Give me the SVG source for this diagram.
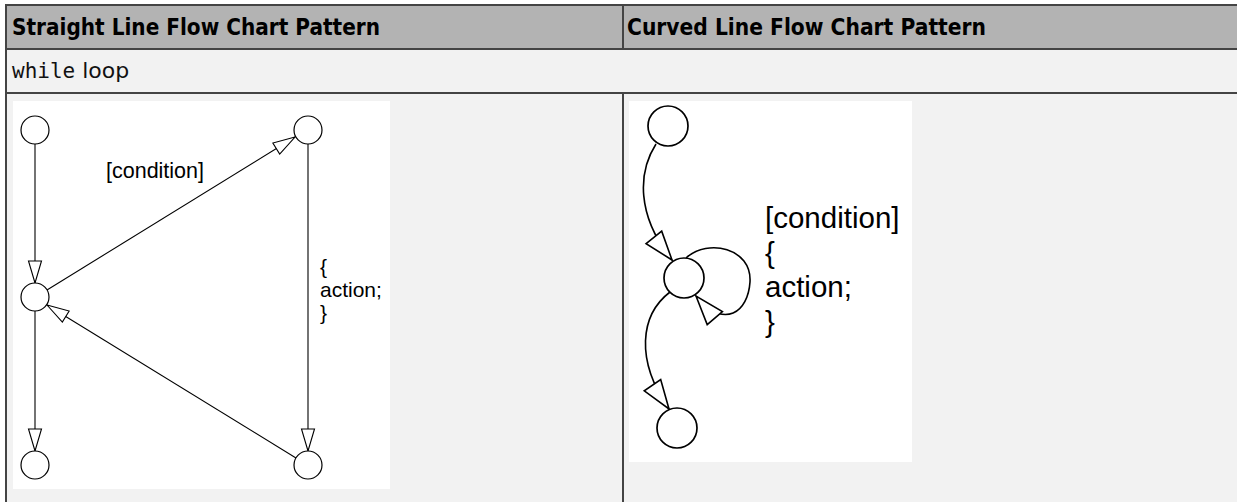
<svg xmlns="http://www.w3.org/2000/svg" width="1237" height="502" viewBox="0 0 1237 502">
  <defs>
    <style>
      .hdr { font-family: "DejaVu Sans", "Liberation Sans", sans-serif; font-weight: bold; font-size: 23px; fill: #000; }
      .mono { font-family: "DejaVu Sans Mono", "Liberation Mono", monospace; font-size: 21px; fill: #111; }
      .body { font-family: "DejaVu Sans", "Liberation Sans", sans-serif; font-size: 22px; fill: #111; }
      .grid { stroke: #444; stroke-width: 2; fill: none; }
      .lbl { font-family: "Liberation Sans", Arial, sans-serif; fill: #000; }
      .node { fill: #fff; stroke: #000; stroke-width: 1.2; }
      .nodeR { fill: #fff; stroke: #000; stroke-width: 1.7; }
      .edge { fill: none; stroke: #000; stroke-width: 1.1; }
      .edgeR { fill: none; stroke: #000; stroke-width: 1.6; }
    </style>
    <marker id="arrL" markerUnits="userSpaceOnUse" viewBox="-24 -8 26 16" markerWidth="26" markerHeight="16" refX="0" refY="0" orient="auto">
      <path d="M0,0 L-22,-6.5 L-22,6.5 Z" fill="#fff" stroke="#000" stroke-width="1.1"/>
    </marker>
    <marker id="arrR" markerUnits="userSpaceOnUse" viewBox="-32 -12 34 24" markerWidth="34" markerHeight="24" refX="0" refY="0" orient="auto">
      <path d="M0,0 L-29,-10 L-29,10 Z" fill="#fff" stroke="#000" stroke-width="1.6"/>
    </marker>
  </defs>

  <rect x="0" y="0" width="1237" height="502" fill="#fff"/>

  <g id="table">
    <rect x="6" y="5" width="1231" height="497" fill="#f2f2f2"/>
    <rect x="6" y="5" width="1231" height="44" fill="#b3b3b3"/>
    <line class="grid" x1="5" y1="5" x2="1237" y2="5"/>
    <line class="grid" x1="6" y1="4" x2="6" y2="502"/>
    <line class="grid" x1="5" y1="49" x2="1237" y2="49"/>
    <line class="grid" x1="5" y1="93" x2="1237" y2="93"/>
    <line class="grid" x1="623" y1="5" x2="623" y2="49"/>
    <line class="grid" x1="623" y1="93" x2="623" y2="502"/>
    <text class="hdr" x="12" y="35" textLength="368" lengthAdjust="spacingAndGlyphs">Straight Line Flow Chart Pattern</text>
    <text class="hdr" x="627" y="35" textLength="359" lengthAdjust="spacingAndGlyphs">Curved Line Flow Chart Pattern</text>
    <text x="12" y="78"><tspan class="mono">while</tspan><tspan class="body"> loop</tspan></text>
  </g>

  <rect id="panel-left" x="13" y="101" width="377" height="388" fill="#fff"/>
  <rect id="panel-right" x="629" y="101" width="283" height="361" fill="#fff"/>

  <g id="connectors">
    <line class="edge" x1="35" y1="144" x2="35" y2="283" marker-end="url(#arrL)"/>
    <line class="edge" x1="47" y1="290" x2="295" y2="137" marker-end="url(#arrL)"/>
    <line class="edge" x1="308" y1="144" x2="308" y2="451" marker-end="url(#arrL)"/>
    <line class="edge" x1="35" y1="311" x2="35" y2="451" marker-end="url(#arrL)"/>
    <line class="edge" x1="296" y1="458" x2="47" y2="305" marker-end="url(#arrL)"/>
    <path class="edgeR" d="M656,144 C638,172 636,215 672,260" marker-end="url(#arrR)"/>
    <path class="edgeR" d="M686,258 C708,238 752,248 750,282 C748,312 725,330 696,296" marker-end="url(#arrR)"/>
    <path class="edgeR" d="M670,292 C640,315 635,360 669,409" marker-end="url(#arrR)"/>
  </g>

  <g id="labels">
    <text class="lbl" x="106" y="178" font-size="21.5">[condition]</text>
    <text class="lbl" font-size="21">
      <tspan x="320" y="274">{</tspan>
      <tspan x="320" y="297">action;</tspan>
      <tspan x="320" y="320">}</tspan>
    </text>
    <text class="lbl" font-size="29.5">
      <tspan x="765" y="228">[condition]</tspan>
      <tspan x="765" y="263">{</tspan>
      <tspan x="765" y="297">action;</tspan>
      <tspan x="765" y="332">}</tspan>
    </text>
  </g>

  <g id="n-L1"><circle class="node" cx="35" cy="130" r="14"/></g>
  <g id="n-L2"><circle class="node" cx="308" cy="130" r="14"/></g>
  <g id="n-L3"><circle class="node" cx="35" cy="297" r="14"/></g>
  <g id="n-L4"><circle class="node" cx="35" cy="465" r="14"/></g>
  <g id="n-L5"><circle class="node" cx="308" cy="465" r="14"/></g>
  <g id="n-R1"><circle class="nodeR" cx="668" cy="126" r="20"/></g>
  <g id="n-R2"><circle class="nodeR" cx="684" cy="278" r="20"/></g>
  <g id="n-R3"><circle class="nodeR" cx="677" cy="428" r="20"/></g>
</svg>
